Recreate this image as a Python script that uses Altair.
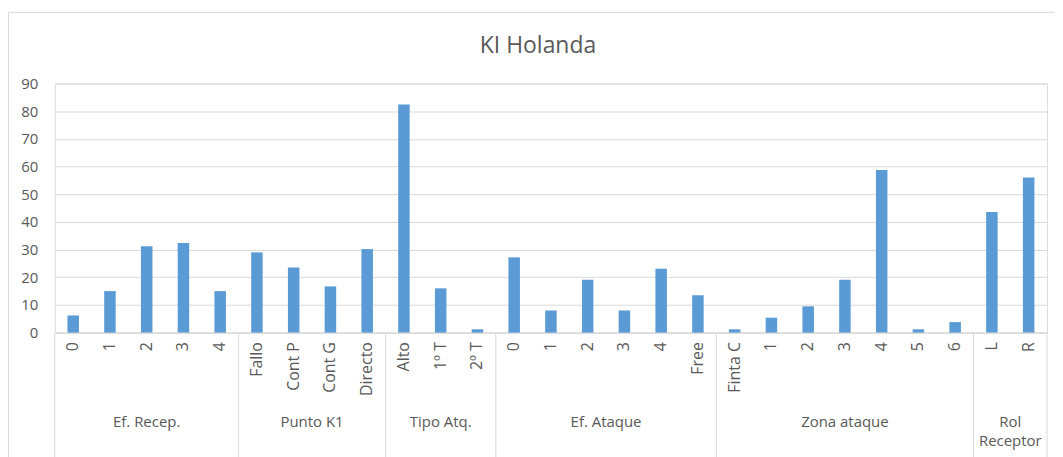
import altair as alt
import pandas as pd

# ---- data ----
title_text = "KI Holanda"
groups = ["Ef. Recep.", "Punto K1", "Tipo Atq.", "Ef. Ataque", "Zona ataque", "Rol Receptor"]
group_labels = ["Ef. Recep.", "Punto K1", "Tipo Atq.", "Ef. Ataque", "Zona ataque", "Rol\nReceptor"]

cats_recep = ["0", "1", "2", "3", "4"]
cats_punto = ["Fallo", "Cont P", "Cont G", "Directo"]
cats_tipo = ["Alto", "1º T", "2º T"]
cats_ataque = ["0", "1", "2", "3", "4", "Free"]
cats_zona = ["Finta C", "1", "2", "3", "4", "5", "6"]
cats_rol = ["L", "R"]

vals_recep = [6.2, 15.0, 31.2, 32.4, 15.0]
vals_punto = [29.0, 23.5, 16.7, 30.2]
vals_tipo = [82.4, 16.0, 1.2]
vals_ataque = [27.2, 8.0, 19.1, 8.0, 23.1, 13.5]
vals_zona = [1.2, 5.4, 9.5, 19.1, 58.8, 1.2, 3.8]
vals_rol = [43.6, 56.1]

y_ticks = [0, 10, 20, 30, 40, 50, 60, 70, 80, 90]

all_cats = [cats_recep, cats_punto, cats_tipo, cats_ataque, cats_zona, cats_rol]
all_vals = [vals_recep, vals_punto, vals_tipo, vals_ataque, vals_zona, vals_rol]

rows = []
grows = []
bounds = [0]
pos = 0
for gi, (g, gl, cs, vs) in enumerate(zip(groups, group_labels, all_cats, all_vals)):
    start = pos
    for c, v in zip(cs, vs):
        rows.append({"key": f"{gi:02d}{pos:02d}|{c}", "group": g, "value": v})
        pos += 1
    grows.append({"group": g, "label": gl, "mid": (start + pos) / 2})
    bounds.append(pos)

df = pd.DataFrame(rows)
gdf = pd.DataFrame(grows)
bdf = pd.DataFrame({"b": bounds})
keys = list(df["key"])
N = len(keys)

W, H = 996, 250
FONT = "Open Sans"
TXT = "#595959"
GRID = "#d9d9d9"

qscale = alt.Scale(domain=[0, N], nice=False, zero=False)

bars = alt.Chart(df).mark_bar(color="#5B9BD5").encode(
    x=alt.X(
        "key:N",
        sort=keys,
        scale=alt.Scale(paddingInner=0.687, paddingOuter=0.3435),
        axis=alt.Axis(
            title=None,
            labelAngle=270,
            labelExpr="split(datum.value, '|')[1]",
            ticks=False,
            tickSize=0,
            domainColor=GRID,
            labelPadding=9,
            labelFontSize=16,
            labelFont=FONT,
            labelColor=TXT,
            grid=False,
            labelOverlap=False,
        ),
    ),
    y=alt.Y(
        "value:Q",
        scale=alt.Scale(domain=[0, 90], nice=False),
        axis=alt.Axis(
            title=None,
            values=y_ticks,
            grid=True,
            gridColor=GRID,
            domain=False,
            ticks=False,
            tickSize=0,
            labelPadding=17,
            labelFontSize=15,
            labelFont=FONT,
            labelColor=TXT,
        ),
    ),
    tooltip=["group:N", "value:Q"],
)

seps = alt.Chart(bdf).mark_rule(color=GRID, strokeWidth=1).encode(
    x=alt.X("b:Q", scale=qscale, axis=None),
    y=alt.value(H),
    y2=alt.value(H + 130),
)

glabels = alt.Chart(gdf).mark_text(
    font=FONT, fontSize=15, color=TXT, baseline="alphabetic", lineBreak="\n", lineHeight=19
).encode(
    x=alt.X("mid:Q", scale=qscale, axis=None),
    y=alt.value(345),
    text="label:N",
)

title = alt.Chart(pd.DataFrame({"t": [title_text]})).mark_text(
    font=FONT, fontSize=23, color=TXT, baseline="alphabetic", align="center"
).encode(
    x=alt.value(485),
    y=alt.value(-31),
    text="t:N",
)

border = alt.Chart(pd.DataFrame({"a": [0]})).mark_rect(
    filled=False, stroke=GRID, strokeWidth=1
).encode(
    x=alt.value(-46.5), x2=alt.value(W + 60), y=alt.value(-71.5), y2=alt.value(H + 200)
)

chart = (
    alt.layer(border, title, bars, seps, glabels)
    .resolve_scale(x="independent")
    .properties(
        width=W,
        height=H,
        padding={"left": 47, "top": 75, "right": 8, "bottom": 124},
        autosize=alt.AutoSizeParams(type="none"),
    )
    .configure_view(stroke=None)
    .configure(background="white")
)

chart.save("out.html", embed_options={"renderer": "svg", "actions": False})
